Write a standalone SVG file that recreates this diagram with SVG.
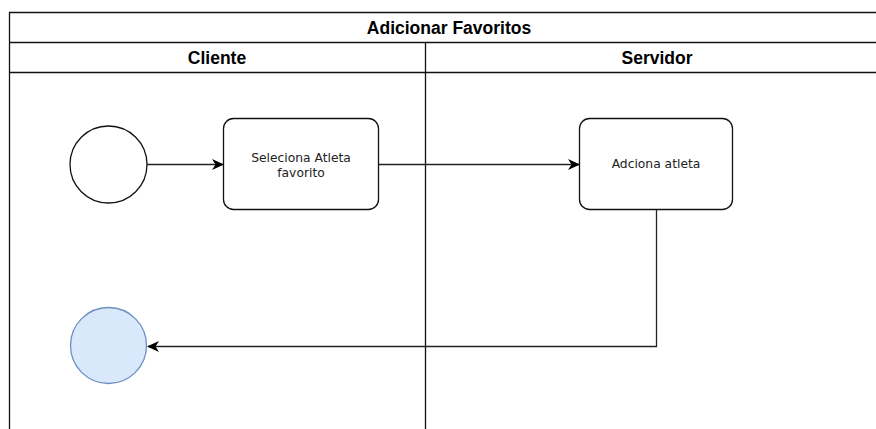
<svg xmlns="http://www.w3.org/2000/svg" width="876" height="429" viewBox="0 0 876 429">
  <style>
    .lane { fill: none; stroke: #111; stroke-width: 1.3; }
    .hdr { font-family: "Liberation Sans", Arial, sans-serif; font-weight: bold; font-size: 17.5px; fill: #000; text-anchor: middle; }
    .lbl { font-family: "DejaVu Sans", Verdana, sans-serif; font-size: 12.3px; fill: #222; text-anchor: middle; }
    .task { fill: #fff; stroke: #111; stroke-width: 1.3; }
    .edge { fill: none; stroke: #222; stroke-width: 1.3; }
  </style>
  <defs>
    <marker id="arrow" viewBox="0 0 12 12" refX="11" refY="6" markerWidth="12" markerHeight="12" markerUnits="userSpaceOnUse" orient="auto">
      <path d="M0,0.5 L12,6 L0,11.5 L3.5,6 Z" fill="#000"/>
    </marker>
  </defs>
  <rect width="876" height="429" fill="#fff"/>

  <!-- pool and lanes -->
  <g id="pool">
    <path class="lane" d="M889,12.5 H9.5 V440"/>
    <path class="lane" d="M9.5,42.5 H889"/>
    <path class="lane" d="M9.5,72.5 H889"/>
    <path class="lane" d="M425.5,42.5 V440"/>
    <text class="hdr" x="449" y="34">Adicionar Favoritos</text>
    <text class="hdr" x="217" y="64">Cliente</text>
    <text class="hdr" x="657" y="64">Servidor</text>
  </g>

  <!-- connectors -->
  <g id="connectors">
    <path class="edge" d="M147,164.5 H223" marker-end="url(#arrow)"/>
    <path class="edge" d="M379,164.5 H579" marker-end="url(#arrow)"/>
    <path class="edge" d="M656.5,209 V346.5 H148" marker-end="url(#arrow)"/>
  </g>

  <g id="start">
    <circle cx="108.5" cy="164.5" r="38.5" fill="#fff" stroke="#111" stroke-width="1.3"/>
  </g>

  <g id="selectAthlete">
    <rect class="task" x="223.5" y="118.5" width="155" height="91" rx="10"/>
    <text class="lbl" x="301" y="162">Seleciona Atleta</text>
    <text class="lbl" x="301" y="177">favorito</text>
  </g>

  <g id="addAthlete">
    <rect class="task" x="579.5" y="118.5" width="153" height="91" rx="10"/>
    <text class="lbl" x="656" y="168">Adciona atleta</text>
  </g>

  <g id="end">
    <circle cx="108.5" cy="345.5" r="38" fill="#dae8fc" stroke="#6c8ebf" stroke-width="1.3"/>
  </g>
</svg>
